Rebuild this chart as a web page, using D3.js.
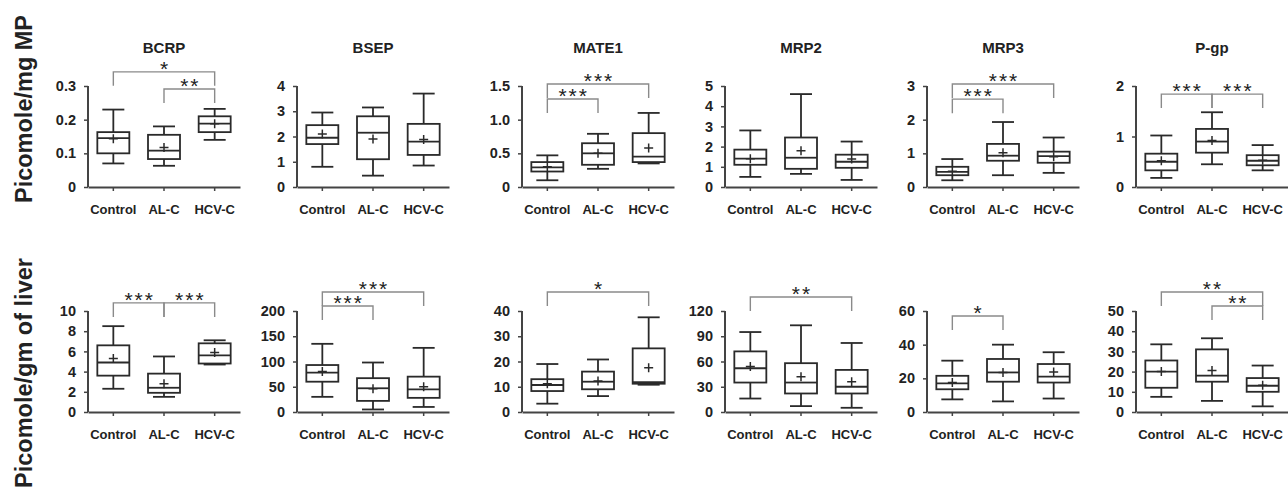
<!DOCTYPE html>
<html>
<head>
<meta charset="utf-8">
<script src="https://cdn.jsdelivr.net/npm/d3@7"></script>
<style>
  html, body { margin: 0; padding: 0; background: #fff; }
  svg text { font-family: "Liberation Sans", Arial, sans-serif; fill: #222; }
</style>
</head>
<body>
<svg id="chart" width="1288" height="489"></svg>
<script>
// Box plots of transporter abundance: per-group [whiskerLow, q1, median, q3, whiskerHigh, mean]
const groups = ["Control", "AL-C", "HCV-C"];
const transporters = ["BCRP", "BSEP", "MATE1", "MRP2", "MRP3", "P-gp"];
const rowLabels = ["Picomole/mg MP", "Picomole/gm of liver"];

// Row 1: picomole / mg membrane protein
const mpBCRP  = [[0.07, 0.10, 0.145, 0.163, 0.23, 0.143], [0.063, 0.083, 0.108, 0.155, 0.18, 0.117], [0.14, 0.163, 0.188, 0.21, 0.232, 0.188]];
const mpBSEP  = [[0.8, 1.7, 1.95, 2.45, 2.95, 2.1], [0.45, 1.1, 2.15, 2.8, 3.15, 1.9], [0.85, 1.27, 1.8, 2.5, 3.7, 1.88]];
const mpMATE1 = [[0.1, 0.23, 0.29, 0.37, 0.47, 0.3], [0.27, 0.33, 0.5, 0.65, 0.79, 0.5], [0.35, 0.37, 0.45, 0.8, 1.1, 0.58]];
const mpMRP2  = [[0.5, 1.1, 1.4, 1.85, 2.8, 1.4], [0.65, 0.9, 1.45, 2.45, 4.6, 1.8], [0.35, 0.95, 1.25, 1.6, 2.25, 1.38]];
const mpMRP3  = [[0.2, 0.35, 0.45, 0.6, 0.83, 0.47], [0.35, 0.78, 0.93, 1.28, 1.93, 1.02], [0.42, 0.72, 0.92, 1.05, 1.47, 0.9]];
const mpPgp   = [[0.18, 0.33, 0.5, 0.66, 1.02, 0.52], [0.45, 0.68, 0.9, 1.15, 1.48, 0.92], [0.33, 0.43, 0.52, 0.63, 0.83, 0.53]];

// Row 2: picomole / gm of liver
const lvBCRP  = [[2.3, 3.6, 4.9, 6.6, 8.5, 5.3], [1.5, 1.9, 2.4, 3.8, 5.5, 2.8], [4.7, 4.8, 5.6, 6.8, 7.1, 5.9]];
const lvBSEP  = [[30, 60, 78, 93, 135, 80], [5, 22, 47, 67, 98, 46], [10, 28, 45, 70, 127, 50]];
const lvMATE1 = [[3.3, 8.3, 10.7, 13, 19, 11.2], [6.3, 9, 12, 16, 20.8, 12.3], [10.8, 11.2, 11.8, 25.2, 37.5, 17.5]];
const lvMRP2  = [[16, 35, 52, 72, 95, 54], [7, 22, 35, 58, 103, 42], [5, 22, 30, 50, 82, 36]];
const lvMRP3  = [[7.5, 13.5, 17, 21.5, 30.5, 17.5], [6.3, 18, 23.5, 31.5, 40, 23.5], [8, 17.5, 21, 28.5, 35.5, 23.8]];
const lvPgp   = [[7.5, 12, 20, 25.5, 33.5, 20], [5.5, 15, 18, 31, 36.5, 20.5], [2.8, 10, 13, 16.8, 23, 13.3]];

// Y tick labels per panel
const mpTicks = [[0, 0.1, 0.2, 0.3], [0, 1, 2, 3, 4], [0, 0.5, 1.0, 1.5], [0, 1, 2, 3, 4, 5], [0, 1, 2, 3], [0, 1, 2]];
const lvTicks = [[0, 2, 4, 6, 8, 10], [0, 50, 100, 150, 200], [0, 10, 20, 30, 40], [0, 30, 60, 90, 120], [0, 20, 40, 60], [0, 10, 20, 30, 40, 50]];
const mpDecimals = [1, 0, 1, 0, 0, 0];

// Significance brackets: [fromGroup, toGroup, label, y value of bar]
const mpSig = [
  [[0, 2, "*", 0.342], [1, 2, "**", 0.291]],
  [],
  [[0, 2, "***", 1.53], [0, 1, "***", 1.307]],
  [],
  [[0, 2, "***", 3.06], [0, 1, "***", 2.61]],
  [[0, 1, "***", 1.84], [1, 2, "***", 1.84]]
];
const lvSig = [
  [[0, 1, "***", 10.8], [1, 2, "***", 10.8]],
  [[0, 2, "***", 237.6], [0, 1, "***", 209.9]],
  [[0, 2, "*", 47.5]],
  [[0, 2, "**", 136.6]],
  [[0, 1, "*", 57]],
  [[0, 2, "**", 59.4], [1, 2, "**", 52.5]]
];

const mpStats = [mpBCRP, mpBSEP, mpMATE1, mpMRP2, mpMRP3, mpPgp];
const lvStats = [lvBCRP, lvBSEP, lvMATE1, lvMRP2, lvMRP3, lvPgp];

// layout
const panelX = [88, 297, 522, 725, 927, 1136];
const axisW = 152;
const rows = [
  { top: 86, bottom: 187, stats: mpStats, ticks: mpTicks, sig: mpSig, titles: true, labelY: 109 },
  { top: 311, bottom: 412, stats: lvStats, ticks: lvTicks, sig: lvSig, titles: false, labelY: 373 }
];
const ink = "#222";
const boxW = 32, capW = 22, plusR = 4.5, legLen = 14;

const svg = d3.select("#chart");

rows.forEach((row, ri) => {
  // row label
  svg.append("text")
    .attr("transform", `translate(24,${row.labelY}) rotate(-90)`)
    .attr("text-anchor", "middle")
    .attr("dominant-baseline", "central")
    .style("font-size", "23.5px")
    .style("font-weight", "bold")
    .text(rowLabels[ri]);

  transporters.forEach((name, pi) => {
    const x0 = panelX[pi];
    const ticks = row.ticks[pi];
    const x = d3.scaleBand().domain(groups).range([x0, x0 + axisW]).padding(0);
    const cx = g => x(g) + x.bandwidth() / 2;
    const y = d3.scaleLinear().domain([0, d3.max(ticks)]).range([row.bottom, row.top]);
    const g = svg.append("g");

    if (row.titles) {
      g.append("text")
        .attr("x", x0 + axisW / 2)
        .attr("y", row.top - 39)
        .attr("text-anchor", "middle")
        .attr("dominant-baseline", "central")
        .style("font-size", "15px")
        .style("font-weight", "bold")
        .text(name);
    }

    const dec = ri === 0 ? mpDecimals[pi] : 0;
    const yAxis = d3.axisLeft(y)
      .tickValues(ticks)
      .tickSize(4)
      .tickPadding(8)
      .tickFormat(v => v === 0 ? "0" : d3.format(`.${dec}f`)(v));
    const ya = g.append("g").attr("transform", `translate(${x0},0)`).call(yAxis);

    const xAxis = d3.axisBottom(x).tickSize(4).tickSizeOuter(0).tickPadding(14);
    const xa = g.append("g").attr("transform", `translate(0,${row.bottom})`).call(xAxis);

    [ya, xa].forEach(a => {
      a.select(".domain").attr("stroke", "#444").attr("stroke-width", 2);
      a.selectAll(".tick line").attr("stroke", "#444").attr("stroke-width", 1.5);
      a.selectAll("text")
        .style("font-weight", "bold")
        .style("font-family", '"Liberation Sans", Arial, sans-serif')
        .attr("fill", ink);
    });
    ya.selectAll("text").style("font-size", "14.5px");
    xa.selectAll("text").style("font-size", "13px");
    // y axis domain only vertical (no outer ticks)
    ya.select(".domain").attr("d", `M0,${row.bottom}V${row.top}`);

    // boxes
    const boxes = g.selectAll(".box")
      .data(row.stats[pi].map((s, i) => ({ grp: groups[i], s })))
      .join("g")
      .attr("class", "box")
      .attr("fill", "none")
      .attr("stroke", "#2a2a2a")
      .attr("stroke-width", 1.8);

    boxes.append("line")
      .attr("x1", d => cx(d.grp)).attr("x2", d => cx(d.grp))
      .attr("y1", d => y(d.s[0])).attr("y2", d => y(d.s[4]));
    boxes.append("line")
      .attr("x1", d => cx(d.grp) - capW / 2).attr("x2", d => cx(d.grp) + capW / 2)
      .attr("y1", d => y(d.s[0])).attr("y2", d => y(d.s[0]));
    boxes.append("line")
      .attr("x1", d => cx(d.grp) - capW / 2).attr("x2", d => cx(d.grp) + capW / 2)
      .attr("y1", d => y(d.s[4])).attr("y2", d => y(d.s[4]));
    boxes.append("rect")
      .attr("x", d => cx(d.grp) - boxW / 2)
      .attr("width", boxW)
      .attr("y", d => y(d.s[3]))
      .attr("height", d => y(d.s[1]) - y(d.s[3]))
      .attr("fill", "#fff");
    boxes.append("line")
      .attr("x1", d => cx(d.grp) - boxW / 2).attr("x2", d => cx(d.grp) + boxW / 2)
      .attr("y1", d => y(d.s[2])).attr("y2", d => y(d.s[2]));
    // mean marker "+"
    boxes.append("path")
      .attr("stroke-width", 1.5)
      .attr("d", d => {
        const mx = cx(d.grp), my = y(d.s[5]);
        return `M${mx - plusR},${my}H${mx + plusR}M${mx},${my - plusR}V${my + plusR}`;
      });

    // significance brackets
    row.sig[pi].forEach(([a, b, label, v]) => {
      const xa1 = cx(groups[a]), xb1 = cx(groups[b]), ly = y(v);
      g.append("path")
        .attr("fill", "none")
        .attr("stroke", "#8a8a8a")
        .attr("stroke-width", 1.4)
        .attr("d", `M${xa1},${ly + legLen}V${ly}H${xb1}V${ly + legLen}`);
      g.append("text")
        .attr("x", (xa1 + xb1) / 2 + 1)
        .attr("y", ly + 4)
        .attr("text-anchor", "middle")
        .style("font-size", "21px")
        .style("letter-spacing", "2px")
        .attr("fill", "#2a2a2a")
        .text(label);
    });
  });
});
</script>
</body>
</html>
